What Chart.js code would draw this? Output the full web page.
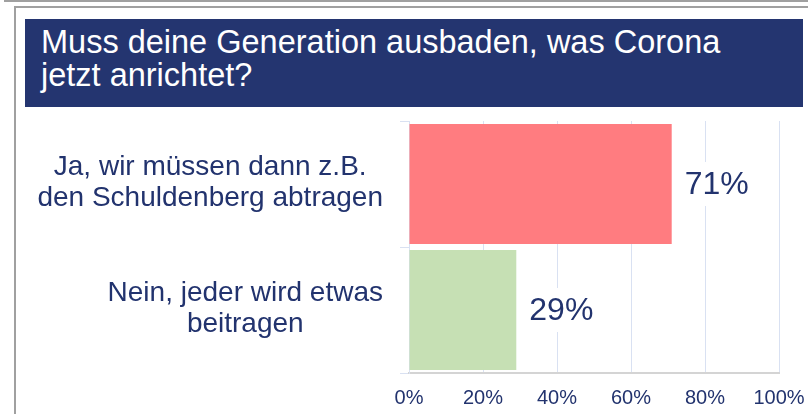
<!DOCTYPE html>
<html>
<head>
<meta charset="utf-8">
<script src="https://cdn.jsdelivr.net/npm/chart.js@4"></script>
<style>
  html, body { margin: 0; padding: 0; background: #fff; }
  body { width: 808px; height: 414px; position: relative; overflow: hidden; font-family: "Liberation Sans", Arial, sans-serif; }
  #frame1 { position: absolute; left: 4px; top: -2px; width: 810px; height: 2px; border: 2px solid #a0a0a0; border-top: none; border-right: none; }
  #frame2 { position: absolute; left: 14px; top: 6px; width: 810px; height: 420px; border-left: 2px solid #a0a0a0; border-top: 2px solid #a0a0a0; }
  #title { position: absolute; left: 25px; top: 19px; width: 778px; height: 88px; background: #243570; color: #fff;
           font-size: 32.5px; line-height: 33px; padding: 7px 0 0 16px; box-sizing: border-box; }
  #wrap { position: absolute; left: 0; top: 0; width: 808px; height: 414px; }
</style>
</head>
<body>
<div id="wrap"><canvas id="myChart"></canvas></div>
<div id="frame1"></div>
<div id="frame2"></div>
<div id="title">Muss deine Generation ausbaden, was Corona<br>jetzt anrichtet?</div>
<script>
function $(id) {
  return document.getElementById(id);
}

// data
const categories = [
  ["Ja, wir müssen dann z.B.", "den Schuldenberg abtragen"],
  ["Nein, jeder wird etwas", "beitragen"]
];
const values = [71, 29];
const barColors = ["#FF7C80", "#C6E0B4"];
const tickValues = [0, 20, 40, 60, 80, 100];

const TEXT = "#22336E";
const FONT = "'Liberation Sans', Arial, sans-serif";

// category labels: each block centred, blocks right-aligned to the axis
const catLabels = {
  id: "catLabels",
  afterDraw(chart) {
    const c = chart.ctx;
    const y = chart.scales.y;
    c.save();
    c.font = "28px " + FONT;
    c.fillStyle = TEXT;
    c.textAlign = "center";
    c.textBaseline = "middle";
    const rightEdge = y.right - 26;
    categories.forEach((lines, i) => {
      const w = Math.max(...lines.map(l => c.measureText(l).width));
      const cx = rightEdge - w / 2;
      const cy = y.getPixelForValue(i);
      const lh = 31;
      lines.forEach((l, j) => {
        c.fillText(l, cx, cy + (j - (lines.length - 1) / 2) * lh - 1);
      });
    });
    c.restore();
  }
};

// value labels with white box behind
const valueLabels = {
  id: "valueLabels",
  afterDatasetsDraw(chart) {
    const c = chart.ctx;
    const meta = chart.getDatasetMeta(0);
    c.save();
    c.font = "32px " + FONT;
    c.textBaseline = "middle";
    c.textAlign = "left";
    meta.data.forEach((bar, i) => {
      const txt = values[i] + "%";
      const w = c.measureText(txt).width;
      const x = bar.x + 13;
      c.fillStyle = "#fff";
      c.fillRect(x - 4, bar.y - 22, w + 8, 44);
      c.fillStyle = TEXT;
      c.fillText(txt, x, bar.y + 1);
    });
    c.restore();
  }
};

window.onload = function() {
  const ctx = $("myChart").getContext("2d");
  new Chart(ctx, {
    type: "bar",
    data: {
      labels: categories,
      datasets: [{
        data: values,
        backgroundColor: barColors,
        borderWidth: 0,
        barPercentage: 0.952,
        categoryPercentage: 1
      }]
    },
    options: {
      indexAxis: "y",
      responsive: true,
      maintainAspectRatio: false,
      animation: false,
      layout: { padding: { top: 121, right: 29, bottom: 5, left: 0 } },
      plugins: {
        legend: { display: false },
        tooltip: { enabled: false },
        title: { display: false }
      },
      scales: {
        x: {
          min: 0,
          max: 100,
          afterBuildTicks(scale) {
            scale.ticks = tickValues.map(v => ({ value: v }));
          },
          afterFit(scale) {
            scale.height = 36;
            scale.paddingRight = 0;
            scale.paddingLeft = 0;
          },
          ticks: {
            padding: 13,
            maxRotation: 0,
            color: TEXT,
            font: { family: FONT, size: 20 },
            callback: v => v + "%"
          },
          grid: { color: "#D9E1F2", lineWidth: 1, drawTicks: false },
          border: { color: "#D4D4D4", width: 2 }
        },
        y: {
          afterFit(scale) {
            scale.width = 409;
          },
          ticks: { display: false },
          grid: {
            offset: true,
            drawOnChartArea: false,
            drawTicks: true,
            tickLength: 9,
            color: "#D9E1F2"
          },
          border: { color: "#D9E1F2", width: 1 }
        }
      }
    },
    plugins: [catLabels, valueLabels]
  });
};
</script>
</body>
</html>
